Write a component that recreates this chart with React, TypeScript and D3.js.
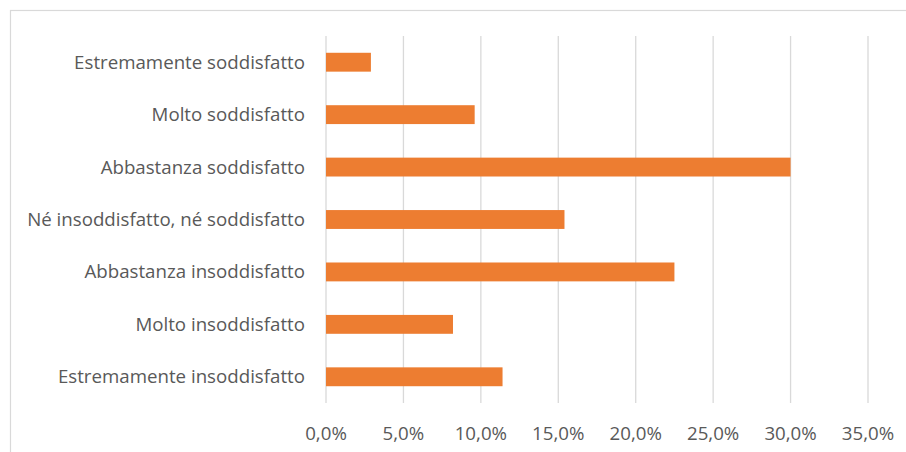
import React from "react";
import * as d3 from "d3";

const categories = [
  "Estremamente soddisfatto",
  "Molto soddisfatto",
  "Abbastanza soddisfatto",
  "Né insoddisfatto, né soddisfatto",
  "Abbastanza insoddisfatto",
  "Molto insoddisfatto",
  "Estremamente insoddisfatto",
];
const values = [2.9, 9.6, 30.0, 15.4, 22.5, 8.2, 11.4];
const ticks = [0, 5, 10, 15, 20, 25, 30, 35];

const W = 906;
const H = 452;
const FONT = "'Open Sans', sans-serif";
const TEXT = "#595959";
const GRID = "#d9d9d9";
const BAR = "#ED7D31";
const FS = 18.7;

export default function App() {
  const x = d3.scaleLinear().domain([0, 35]).range([326, 868]);
  const y = d3.scaleBand<string>().domain(categories).range([36, 403]).paddingInner(0.64).paddingOuter(0.32);
  const fmt = (v: number) => v.toFixed(1).replace(".", ",") + "%";
  return (
    <svg width={W} height={H} style={{ position: "absolute", left: 0, top: 0, background: "#fff" }}>
      <rect x={10.5} y={10.5} width={W + 20} height={H + 20} fill="#fff" stroke={GRID} strokeWidth={1.2} />
      {ticks.map((t) => (
        <line key={t} x1={x(t)} x2={x(t)} y1={36} y2={403} stroke={GRID} strokeWidth={1.3} />
      ))}
      {categories.map((c, i) => (
        <rect key={c} x={x(0)} y={y(c)} width={x(values[i]) - x(0)} height={y.bandwidth()} fill={BAR} />
      ))}
      {categories.map((c) => (
        <text key={c} x={305} y={(y(c) as number) + y.bandwidth() / 2} dy="0.35em" textAnchor="end"
          fontFamily={FONT} fontSize={FS} fill={TEXT}>{c}</text>
      ))}
      {ticks.map((t) => (
        <text key={t} x={x(t)} y={433} dy="0.35em" textAnchor="middle" fontFamily={FONT} fontSize={FS} fill={TEXT}>
          {fmt(t)}
        </text>
      ))}
    </svg>
  );
}
